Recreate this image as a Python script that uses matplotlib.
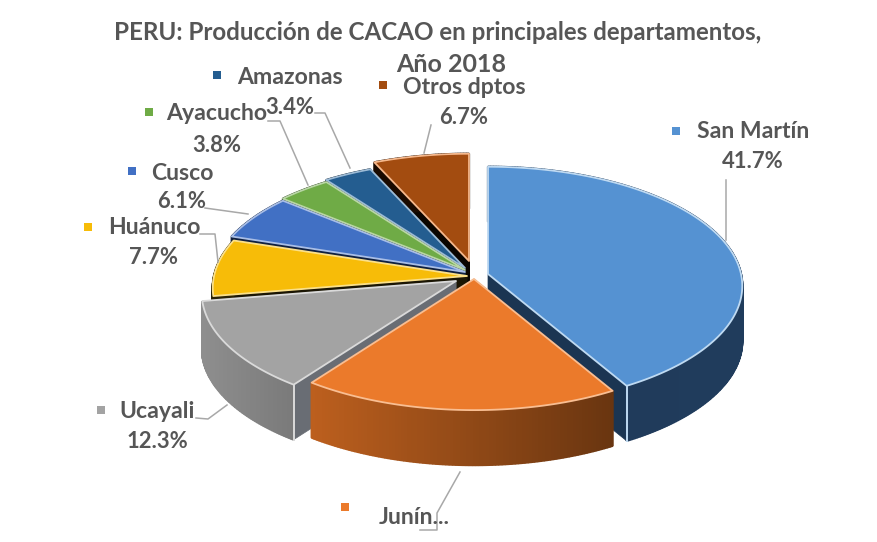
import numpy as np
import matplotlib
matplotlib.use("Agg")
import matplotlib.pyplot as plt
from matplotlib.collections import PolyCollection
from matplotlib.colors import to_rgb

plt.rcParams['font.family'] = ['Lato', 'DejaVu Sans']

# ---- data ----
departments = ["San Martín", "Junín", "Ucayali", "Huánuco", "Cusco", "Ayacucho", "Amazonas", "Otros dptos"]
shares = [41.7, 18.4, 12.3, 7.7, 6.1, 3.8, 3.4, 6.7]
title_lines = ["PERU: Producción de CACAO en principales departamentos,", "Año 2018"]

# ---- style / layout ----
top_colors = ["#5592D2", "#EB7A2B", "#A3A3A3", "#F7BC08", "#4170C4", "#6FAB46", "#245D90", "#A34C10"]
rim_colors = ["#BFDAF2", "#F9BE92", "#DADADA", "#FBE08A", "#A9BEE6", "#B9D6A6", "#9DBBD6", "#F6B88C"]
wall_left = ["#1F3A5A", "#BC5F1E", "#8E8E8E", "#2A2205", "#10203F", "#1F3312", "#0A1E30", "#1A0A00"]
wall_right = ["#203C5C", "#693510", "#7A7A7A", "#2A2205", "#10203F", "#1F3312", "#0A1E30", "#1A0A00"]
face_colors = ["#1B3552", "#6A3610", "#696D74", "#1A1503", "#10203F", "#1F3312", "#0A1E30", "#0A0500"]
offsets = [(21, 2), (7, 7), (-11, 9), (0, 4), (-2, 0), (-2, -2), (-2, -4), (2, -11)]
draw_order = [7, 6, 5, 4, 3, 0, 2, 1]
CX, CY = 467, 272
RX, RY, PERSP, DEPTH = 253, 118, 0.10, 55
TXT = "#565656"
LEAD = "#A8A8A8"

legend_pos = [  # marker x, marker y, text x, name y, pct y
    (676, 131, 753, 131, 162), (345, 507, 414, 517, None), (101, 410, 157, 412, 442),
    (88, 227, 154, 228, 258), (132, 171, 182, 173, 202), (149, 112, 217, 114, 145),
    (217, 75, 290, 77, 107), (383, 85, 464, 87, 117)]
leaders = [
    ([726, 726], [180, 240]),
    ([460, 437, 437, 420], [472, 513, 530, 530]),
    ([196, 208, 227], [418, 419, 405]),
    ([200, 215, 218], [234, 234, 262]),
    ([205, 248], [208, 214]),
    ([268, 280, 308], [121, 121, 185]),
    ([315, 325, 350], [113, 113, 168]),
    ([431, 424], [125, 153]),
]


def project(theta):
    t = np.radians(theta)
    u, v = np.sin(t), -np.cos(t)
    s = 1 / (1 - PERSP * v)
    return RX * u * s, RY * v * s


fig = plt.figure(figsize=(8.77, 5.42), dpi=100)
ax = fig.add_axes([0, 0, 1, 1])
ax.set_xlim(0, 877)
ax.set_ylim(542, 0)
ax.axis("off")

edges = np.concatenate([[0], np.cumsum(shares)]) / sum(shares) * 360
z = 2
for i in draw_order:
    a0, a1 = edges[i], edges[i + 1]
    th = np.linspace(a0, a1, max(8, int((a1 - a0) * 1.5)))
    ax_x, ax_y = CX + offsets[i][0], CY + offsets[i][1]
    px, py = project(th)
    px, py = px + ax_x, py + ax_y
    # cut faces
    for k in (0, -1):
        ax.fill([ax_x, px[k], px[k], ax_x], [ax_y, py[k], py[k] + DEPTH, ax_y + DEPTH],
                color=face_colors[i], lw=0.5, zorder=z)
    z += 1
    # outer wall with shading
    c0, c1 = np.array(to_rgb(wall_left[i])), np.array(to_rgb(wall_right[i]))
    quads, cols = [], []
    xmin, xmax = px.min(), px.max()
    for k in range(len(px) - 1):
        quads.append([(px[k], py[k]), (px[k + 1], py[k + 1]),
                      (px[k + 1], py[k + 1] + DEPTH), (px[k], py[k] + DEPTH)])
        f = ((px[k] + px[k + 1]) / 2 - xmin) / max(xmax - xmin, 1)
        cols.append(c0 + (c1 - c0) * f)
    ax.add_collection(PolyCollection(quads, facecolors=cols, edgecolors=cols, linewidths=1.6,
                                     joinstyle="bevel", zorder=z))
    z += 1
    # light corner rims on the front wedges
    if i in (0, 2):
        k = -1 if i == 0 else 0
        ax.plot([px[k], px[k]], [py[k], py[k] + DEPTH], color=rim_colors[i], lw=1.4, zorder=z)
    # top face
    ax.fill(np.r_[ax_x, px], np.r_[ax_y, py], facecolor=top_colors[i],
            edgecolor=rim_colors[i], lw=1.3, joinstyle="round", zorder=z)
    z += 1

for lx, ly in leaders:
    ax.plot(lx, ly, color=LEAD, lw=1.1, zorder=z)
z += 1

for name, val, col, (mx, my, tx, ny, py_) in zip(departments, shares, top_colors, legend_pos):
    ax.scatter([mx], [my], marker="s", s=38, color=col, linewidths=0, zorder=z)
    label = name if py_ is not None else name + "..."
    ax.text(tx, ny, label, ha="center", va="center", fontsize=16.6, fontweight="bold", color=TXT, zorder=z)
    if py_ is not None:
        ax.text(tx, py_, f"{val:.1f}%", ha="center", va="center", fontsize=15.8, fontweight="bold", color=TXT, zorder=z)

ax.text(438, 32, title_lines[0], ha="center", va="center", fontsize=17.4, fontweight="bold", color=TXT, zorder=z)
ax.text(451, 65, title_lines[1], ha="center", va="center", fontsize=18, fontweight="bold", color=TXT, zorder=z)

fig.savefig("out.png", dpi=100, facecolor="white")
